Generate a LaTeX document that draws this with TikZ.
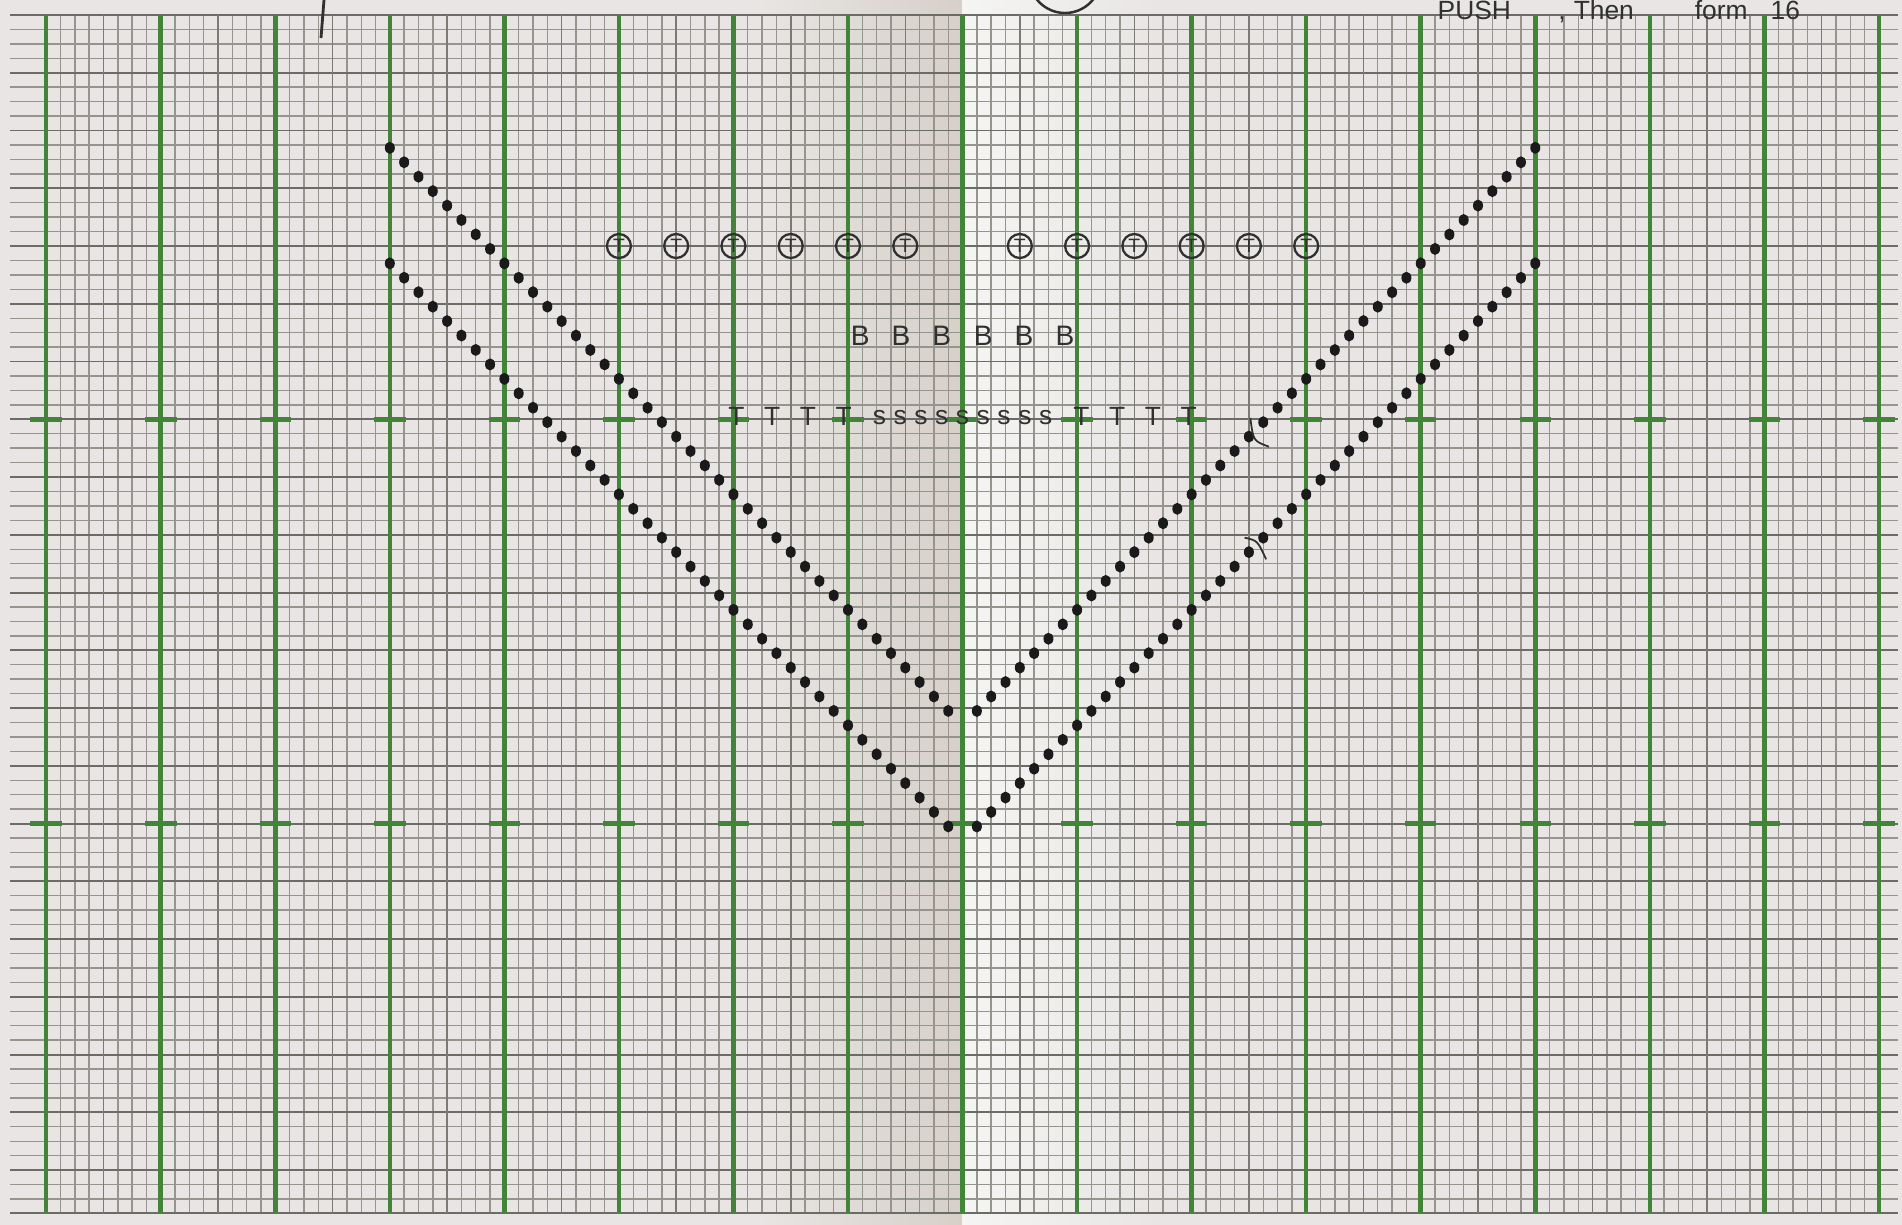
\documentclass[tikz,border=0pt]{standalone}
\usepackage{fontspec}
\setmainfont{Liberation Sans}
\usetikzlibrary{positioning}
\definecolor{paper}{RGB}{232, 229, 228}
\definecolor{foldshade}{RGB}{214, 208, 200}
\definecolor{foldlight}{RGB}{245, 245, 243}
\definecolor{fieldgreen}{RGB}{66, 132, 56}
\definecolor{gridgray}{RGB}{150, 148, 143}
\definecolor{griddark}{RGB}{108, 108, 103}
\definecolor{gridmid}{RGB}{124, 122, 117}
\definecolor{pencil}{RGB}{48, 48, 48}
\definecolor{inkdot}{RGB}{26, 26, 26}

\begin{document}
\begin{tikzpicture}[
            x=0.01cm, y=-0.01cm,
            minor/.style={gridgray, line width=0.4pt},
            major/.style={griddark, line width=0.55pt},
            halfline/.style={gridmid, line width=0.45pt},
            yardline/.style={fieldgreen, line width=1.3pt},
            hand/.style={pencil, inner sep=0pt, font=\fontsize{7.5}{8}\selectfont},
            circT/.style={draw=pencil, circle, line width=0.65pt, minimum size=0.24cm, inner sep=0pt, text=pencil, font=\fontsize{5.5}{6}\selectfont},
            inkdot/.style={fill=inkdot}
        ]
            \useasboundingbox (0,0) rectangle (1902,1225);
            \clip (0,0) rectangle (1902,1225);
            \fill[paper] (0,0) rectangle (1902,1225);
            \shade[left color=paper, right color=foldshade] (760,0) rectangle (962,1225);
            \shade[left color=foldlight, right color=paper] (962,0) rectangle (1160,1225);

            % field grid, one unit = one step
            \begin{scope}[xshift=9.62cm, yshift=-0.15cm, x=0.1431cm, y=-0.1443cm]
                \foreach \r in {0,...,83} \draw[minor] (-66.5,\r) -- (65.3,\r);
                \foreach \c in {-64,...,64} \draw[minor] (\c,0) -- (\c,83);
                \foreach \r in {0,4,...,80} \draw[major] (-66.5,\r) -- (65.3,\r);
                \draw[major] (-66.5,83) -- (65.3,83);
                \foreach \c in {-60,-52,...,60} \draw[halfline] (\c,0) -- (\c,83);
                \foreach \c in {-64,-56,...,64} {
                    \draw[yardline] (\c,0) -- (\c,83);
                    \draw[yardline] (\c-1.1,28) -- (\c+1.1,28);
                    \draw[yardline] (\c-1.1,56) -- (\c+1.1,56);
                }

                % two V lines of dots
                \foreach \k in {0,...,39} {
                    \fill[inkdot] (-40+\k,9.2+\k) ellipse [x radius=0.05cm, y radius=0.06cm];
                    \fill[inkdot] (40-\k,9.2+\k) ellipse [x radius=0.05cm, y radius=0.06cm];
                    \fill[inkdot] (-40+\k,17.2+\k) ellipse [x radius=0.05cm, y radius=0.06cm];
                    \fill[inkdot] (40-\k,17.2+\k) ellipse [x radius=0.05cm, y radius=0.06cm];
                }

                \foreach \c [count=\i] in {-24,-20,-16,-12,-8,-4,4,8,12,16,20,24}
                    \node[circT] (ct\i) at (\c,16) {T};
                \foreach \c [count=\i] in {-7.15,-4.3,-1.45,1.45,4.3,7.15}
                    \node[hand, font=\fontsize{8}{9}\selectfont] (bb\i) at (\c,22.2) {B};
                \foreach \c [count=\i] in {-15.8,-13.3,-10.8,-8.3,8.3,10.8,13.3,15.8}
                    \node[hand] (tt\i) at (\c,27.8) {T};
                \foreach \k [count=\i] in {-4,...,4}
                    \node[hand] (ss\i) at (1.45*\k,27.9) {s};

                \draw[pencil, line width=0.5pt] (20.1,27.9) .. controls (20.3,29.5) .. (21.4,29.9);
                \draw[pencil, line width=0.5pt] (19.7,36.2) .. controls (20.6,36.4) .. (21.2,37.7);
            \end{scope}

            \draw[pencil, line width=0.8pt] (324,0) -- (321,38);
            \draw[pencil, line width=0.7pt, overlay] (1065,-23) circle [radius=0.36cm];
            \node[hand, anchor=base west] (push) at (1437,20) {PUSH};
            \node[hand, right=0.46cm of push.base east, anchor=base west] (form) {,\hspace{0.08cm}Then\hspace{0.61cm}form\hspace{0.23cm}16};
        \end{tikzpicture}
\end{document}
